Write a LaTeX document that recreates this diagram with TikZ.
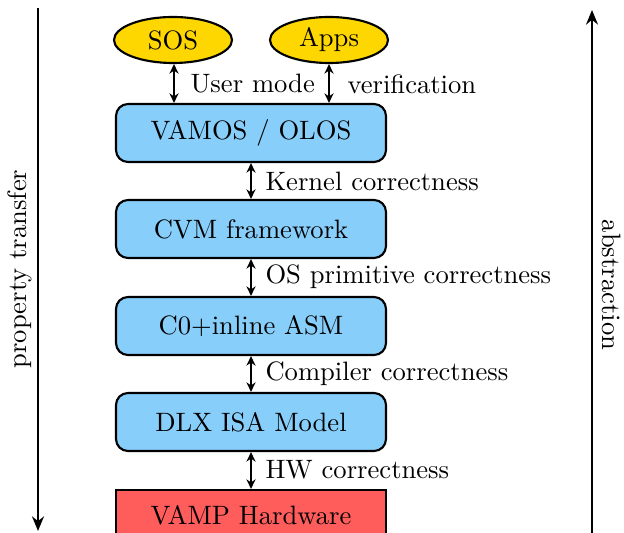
\documentclass[tikz,border=0pt]{standalone}
\usetikzlibrary{shapes.geometric,arrows.meta}
\definecolor{layergold}{RGB}{255,215,0}
\definecolor{layerblue}{RGB}{135,206,250}
\definecolor{layerred}{RGB}{255,92,92}
\begin{document}
\begin{tikzpicture}[x=0.376pt,y=-0.376pt,
  userbox/.style={ellipse,draw,line width=0.8pt,fill=layergold,minimum width=118*0.376pt,minimum height=46*0.376pt,inner sep=0pt},
  layerbox/.style={rectangle,rounded corners=4.5pt,draw,line width=0.8pt,fill=layerblue,minimum width=270*0.376pt,minimum height=58*0.376pt,inner sep=0pt},
  hwbox/.style={rectangle,draw,line width=0.8pt,fill=layerred,minimum width=270*0.376pt,minimum height=50*0.376pt,inner sep=0pt},
  link/.style={{Stealth[length=3.6pt,width=3.4pt]}-{Stealth[length=3.6pt,width=3.4pt]},line width=0.6pt},
  side/.style={-{Stealth[length=5.5pt,width=4.5pt]},line width=0.7pt},
  lbl/.style={anchor=west,inner sep=0pt}]
\useasboundingbox (0,0) rectangle (624,533);
\begin{scope}
\clip (0,0) rectangle (624,533);
% user level
\node[userbox] (sos) at (173,40) {SOS};
\node[userbox] (apps) at (329,40) {Apps};
% layered models
\node[layerbox] (vamos) at (251,133) {VAMOS / OLOS};
\node[layerbox] (cvm) at (251,229) {CVM framework};
\node[layerbox] (czero) at (251,326) {C0+inline ASM};
\node[layerbox] (dlx) at (251,422) {DLX ISA Model};
\node[hwbox] (vamp) at (251,515) {VAMP Hardware};
% correctness links
\draw[link] (sos.south -| 174,0) -- (vamos.north -| 174,0);
\draw[link] (apps.south -| 329,0) -- (vamos.north -| 329,0);
\draw[link] (vamos) -- (cvm);
\draw[link] (cvm) -- (czero);
\draw[link] (czero) -- (dlx);
\draw[link] (dlx) -- (vamp);
\node[lbl] (um) at (190,84) {User mode};
\node[lbl] (ver) at (347,84) {verification};
\node[lbl] (kc) at (265,181) {Kernel correctness};
\node[lbl] (oc) at (265,277) {OS primitive correctness};
\node[lbl] (cc) at (265,374) {Compiler correctness};
\node[lbl] (hc) at (265,470) {HW correctness};
% side arrows
\coordinate (ltop) at (38,8);
\coordinate (lbot) at (38,531);
\coordinate (rbot) at (592,540);
\coordinate (rtop) at (592,10);
\draw[side] (ltop) -- (lbot);
\draw[side] (rbot) -- (rtop);
\node[rotate=90] (pt) at (20,269) {property transfer};
\node[rotate=-90] (ab) at (612,285) {abstraction};
\end{scope}
\end{tikzpicture}
\end{document}
